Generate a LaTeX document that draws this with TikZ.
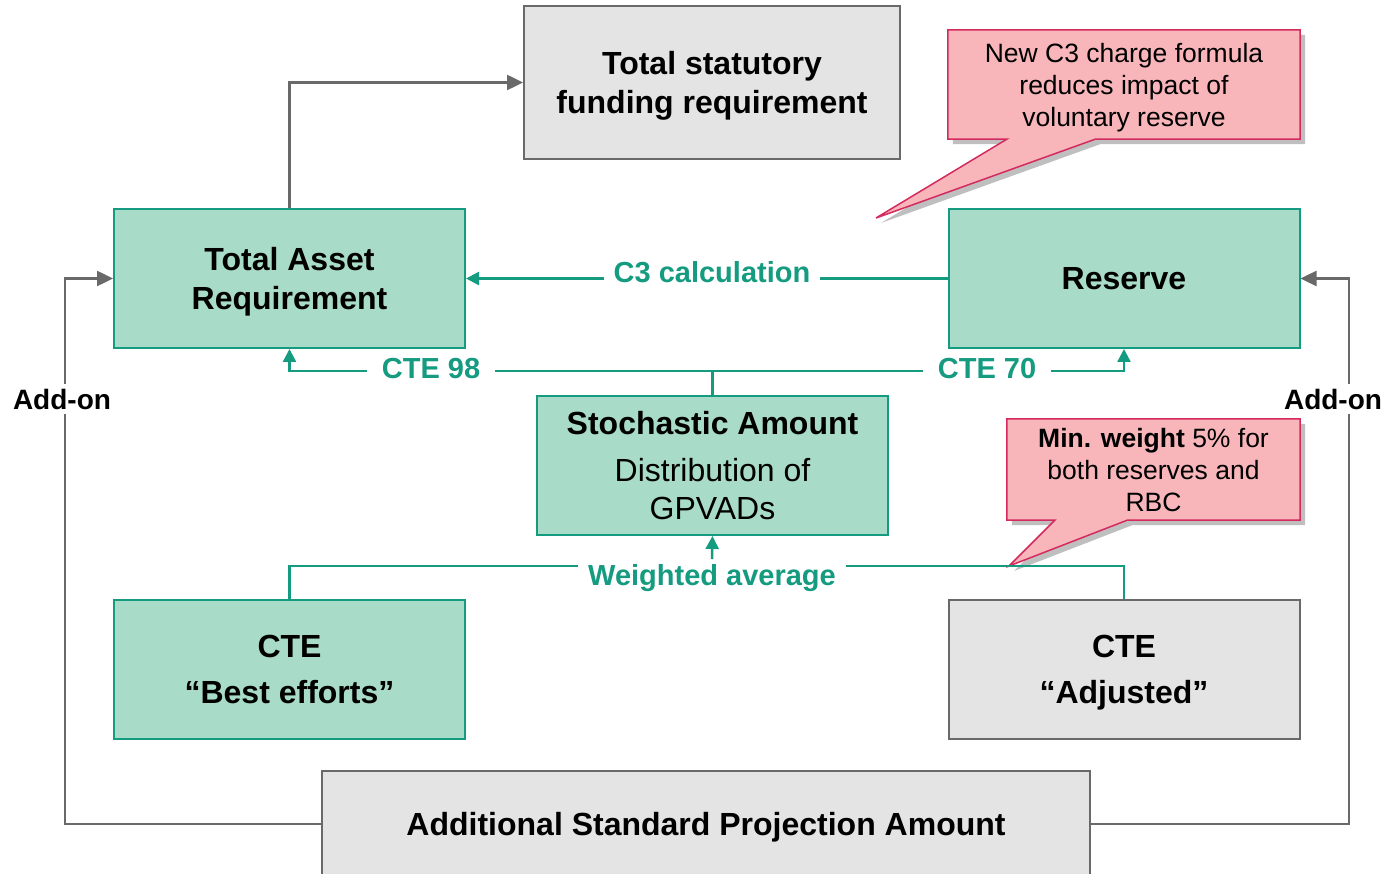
\documentclass[tikz,border=0pt]{standalone}
\usepackage{fontspec}
\setmainfont{Liberation Sans}
\usetikzlibrary{positioning}
\usetikzlibrary{arrows.meta}
\usetikzlibrary{shadows}
\usetikzlibrary{backgrounds}

\definecolor{tealfill}{HTML}{A8DBC8}
\definecolor{tealline}{HTML}{149B80}
\definecolor{greyfill}{HTML}{E4E4E4}
\definecolor{greyline}{HTML}{696969}
\definecolor{notefill}{HTML}{F8B6BA}
\definecolor{noteline}{HTML}{D42A5E}

\tikzset{
	box/.style={draw, line width=2pt, minimum width=351pt, minimum height=139pt, align=center, inner sep=0pt, text depth=0pt},
	tealbox/.style={box, draw=tealline, fill=tealfill},
	greybox/.style={box, draw=greyline, fill=greyfill},
	title/.style={font=\fontsize{32}{39}\selectfont\bfseries},
	flow/.style={tealline, line width=2.5pt},
	addon/.style={greyline, line width=2.5pt},
	tealtip/.style={-{Triangle[length=13pt, width=13pt]}},
	greytip/.style={-{Triangle[length=16pt, width=15pt]}},
	lbl/.style={fill=white, text=tealline, font=\fontsize{29}{33}\selectfont\bfseries, inner ysep=5pt, inner xsep=10pt},
	addlbl/.style={fill=white, font=\fontsize{28}{32}\selectfont\bfseries, inner sep=5pt},
	notetext/.style={minimum width=#1, align=center, inner sep=0pt, text depth=0pt, font=\fontsize{26.5}{32}\selectfont},
	note/.style={draw=noteline, fill=notefill, line width=1.5pt, line join=miter,
		drop shadow={shadow xshift=5pt, shadow yshift=-5pt, opacity=0.25, fill=black}}
}

\begin{document}
\begin{tikzpicture}[x=1pt, y=-1pt]
\useasboundingbox (0,0) rectangle (1389,874);

% boxes
\node[greybox, title, minimum width=376pt, minimum height=153pt] (total) at (712,82.5) {Total statutory\\funding requirement};
\node[tealbox, title] (tar) at (289.5,278.5) {Total Asset\\Requirement};
\node[tealbox, title] (reserve) at (1124,278.5) {Reserve};
\node[tealbox, font=\fontsize{32}{38}\selectfont] (stoch) at (712.5,465.5)
	{{\fontsize{32}{39}\selectfont\bfseries Stochastic Amount}\\[9pt]Distribution of\\GPVADs};
\node[tealbox, font=\fontsize{32}{46}\selectfont\bfseries] (best) at (289.5,669.5) {CTE\\“Best efforts”};
\node[greybox, font=\fontsize{32}{46}\selectfont\bfseries] (adj) at (1124,669.5) {CTE\\“Adjusted”};
\node[greybox, title, minimum width=768pt, minimum height=106pt] (aspa) at (706,824) {Additional Standard Projection Amount};

% callouts
\node[notetext=352pt, minimum height=109pt] (note1) at (1124,84.5) {New C3 charge formula\\reduces impact of\\voluntary reserve};
\coordinate (ptr1) at (876,218);
\node[notetext=293pt, minimum height=101pt] (note2) at (1153.5,469.5) {\textbf{Min. weight} 5\% for\\both reserves and\\RBC};
\coordinate (ptr2) at (1009,566);
\begin{scope}[on background layer]
\draw[note] (note1.south west) -- (note1.north west) -- (note1.north east) -- (note1.south east)
	-- ([xshift=-205pt]note1.south east) -- (ptr1) -- ([xshift=59pt]note1.south west) -- cycle;
\draw[note] (note2.south west) -- (note2.north west) -- (note2.north east) -- (note2.south east)
	-- ([xshift=-173pt]note2.south east) -- (ptr2) -- ([xshift=48pt]note2.south west) -- cycle;
\end{scope}

% connectors
\draw[addon, greytip] (tar.north) |- (total.west);
\draw[flow, tealtip] (reserve.west) -- (tar.east);
\draw[flow, tealtip] (stoch.north) -- ++(0,-24) -| (tar.south);
\draw[flow, tealtip] (stoch.north) -- ++(0,-24) -| (reserve.south);
\draw[flow] (best.north) -- ++(0,-33) -| (adj.north);
\draw[addon, greytip] (aspa.west) -- ++(-256,0) |- (tar.west);
\draw[addon, greytip] (aspa.east) -- ++(258,0) |- (reserve.east);

% labels
\node[lbl] (c3) at (712,272) {C3 calculation};
\node[lbl, inner xsep=15pt] (cte98) at (431,369) {CTE 98};
\node[lbl, inner xsep=15pt] (cte70) at (987,369) {CTE 70};
\node[lbl] (wavg) at (712,578) {Weighted average};
\draw[flow, tealtip] (wavg.north) -- (stoch.south);
\node[addlbl] (addl) at (62,399) {Add-on};
\node[addlbl] (addr) at (1333,399) {Add-on};
\end{tikzpicture}
\end{document}
